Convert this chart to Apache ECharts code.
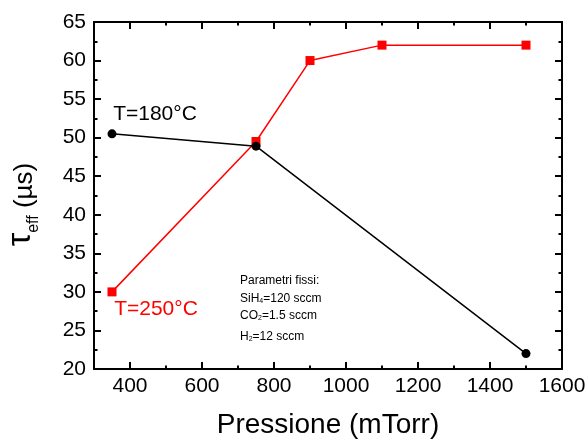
<!DOCTYPE html>
<html>
<head>
<meta charset="utf-8">
<script src="https://cdn.jsdelivr.net/npm/echarts@6/dist/echarts.min.js"></script>
<style>
  html, body { margin: 0; padding: 0; background: #fff; }
  #chart { width: 587px; height: 439px; }
</style>
</head>
<body>
<div id="chart"></div>
<script>
// Pressure (mTorr) and effective lifetime (µs) for the two deposition temperatures
const pressure180 = [350, 750, 1500];
const tau180 = [50.5, 48.9, 22];
const pressure250 = [350, 750, 900, 1100, 1500];
const tau250 = [30, 49.5, 60, 62, 62];
const label180 = 'T=180°C';
const label250 = 'T=250°C';
const xTickLabels = [400, 600, 800, 1000, 1200, 1400, 1600];
const fixedParams = [
  'Parametri fissi:',
  'SiH{s|4}=120 sccm',
  'CO{s|2}=1.5 sccm',
  'H{s|2}=12 sccm'
];

const FONT = 'Liberation Sans, Arial, sans-serif';
const chart = echarts.init(document.getElementById('chart'));

const pairs = (xs, ys) => xs.map((x, i) => [x, ys[i]]);
const X_MIN = 300, X_MAX = 1600;

const lineStyleBlack = { color: '#000', width: 2 };

// x axes: major ticks + labels at custom values, a second pair only for the 100-step minor ticks
function xMajor(position, showLabels) {
  return {
    type: 'value', min: X_MIN, max: X_MAX, position,
    axisLine: { show: true, onZero: false, lineStyle: lineStyleBlack },
    axisTick: { show: true, inside: true, length: 7, customValues: xTickLabels, lineStyle: lineStyleBlack },
    axisLabel: showLabels
      ? { show: true, customValues: xTickLabels, color: '#000', fontSize: 21, fontFamily: FONT, margin: 7,
          formatter: v => String(v) }
      : { show: false },
    splitLine: { show: false }
  };
}
function xMinor(position) {
  return {
    type: 'value', min: X_MIN, max: X_MAX, interval: 100, position,
    axisLine: { show: false, onZero: false },
    axisTick: { show: true, inside: true, length: 3.5, lineStyle: lineStyleBlack },
    axisLabel: { show: false },
    splitLine: { show: false }
  };
}
function yAxis(position, showLabels) {
  return {
    type: 'value', min: 20, max: 65, interval: 5, position,
    axisLine: { show: true, onZero: false, lineStyle: lineStyleBlack },
    axisTick: { show: true, inside: true, length: 7, lineStyle: lineStyleBlack },
    minorTick: { show: true, splitNumber: 2, length: 3.5, lineStyle: lineStyleBlack },
    axisLabel: showLabels
      ? { color: '#000', fontSize: 21, fontFamily: FONT, margin: 8 }
      : { show: false },
    splitLine: { show: false }
  };
}

const xBottom = xMajor('bottom', true);
xBottom.name = 'Pressione (mTorr)';
xBottom.nameLocation = 'middle';
xBottom.nameGap = 42;
xBottom.nameTextStyle = { color: '#000', fontSize: 28, fontFamily: FONT };

const yLeft = yAxis('left', true);
yLeft.name = '{t|τ}{e|eff}{u| (µs)}';
yLeft.nameLocation = 'middle';
yLeft.nameGap = 56;
yLeft.nameRotate = 90;
yLeft.nameTextStyle = {
  color: '#000', fontFamily: FONT, padding: [0, 18, 0, 0],
  rich: {
    t: { fontSize: 34, fontFamily: FONT, color: '#000', verticalAlign: 'bottom', lineHeight: 32 },
    e: { fontSize: 16, fontFamily: FONT, color: '#000', verticalAlign: 'bottom', lineHeight: 32, padding: [0, 0, -4, 0] },
    u: { fontSize: 26, fontFamily: FONT, color: '#000', verticalAlign: 'bottom', lineHeight: 32 }
  }
};

// subscript digits for the chemical formulas
const richSub = {
  s: { fontSize: 7, fontFamily: FONT, fill: '#000', verticalAlign: 'bottom', lineHeight: 7 }
};
const paramTops = [275, 292.5, 310, 331];

chart.setOption({
  animation: false,
  grid: { left: 94, right: 25, top: 22, bottom: 70, outerBoundsMode: 'none', containLabel: false },
  xAxis: [xBottom, xMajor('top', false), xMinor('bottom'), xMinor('top')],
  yAxis: [yLeft, yAxis('right', false)],
  series: [
    {
      type: 'line', name: label180, data: pairs(pressure180, tau180),
      xAxisIndex: 0, yAxisIndex: 0,
      symbol: 'circle', symbolSize: 9,
      lineStyle: { color: '#000', width: 1.5 },
      itemStyle: { color: '#000' },
      label: {
        show: true, color: '#000', fontSize: 21, fontFamily: FONT,
        position: 'top', distance: 5, offset: [43, 0],
        formatter: p => (p.dataIndex === 0 ? label180 : '')
      },
      z: 3
    },
    {
      type: 'line', name: label250, data: pairs(pressure250, tau250),
      xAxisIndex: 0, yAxisIndex: 0,
      symbol: 'rect', symbolSize: 9,
      lineStyle: { color: '#ff0000', width: 1.5 },
      itemStyle: { color: '#ff0000' },
      label: {
        show: true, color: '#ff0000', fontSize: 21, fontFamily: FONT,
        position: 'bottom', distance: 2, offset: [44, 0],
        formatter: p => (p.dataIndex === 0 ? label250 : '')
      },
      z: 2
    }
  ],
  graphic: fixedParams.map((t, i) => ({
    type: 'text', left: 240, top: paramTops[i],
    style: { text: t, fill: '#000', fontSize: 12, fontFamily: FONT, rich: richSub }
  }))
});
</script>
</body>
</html>
